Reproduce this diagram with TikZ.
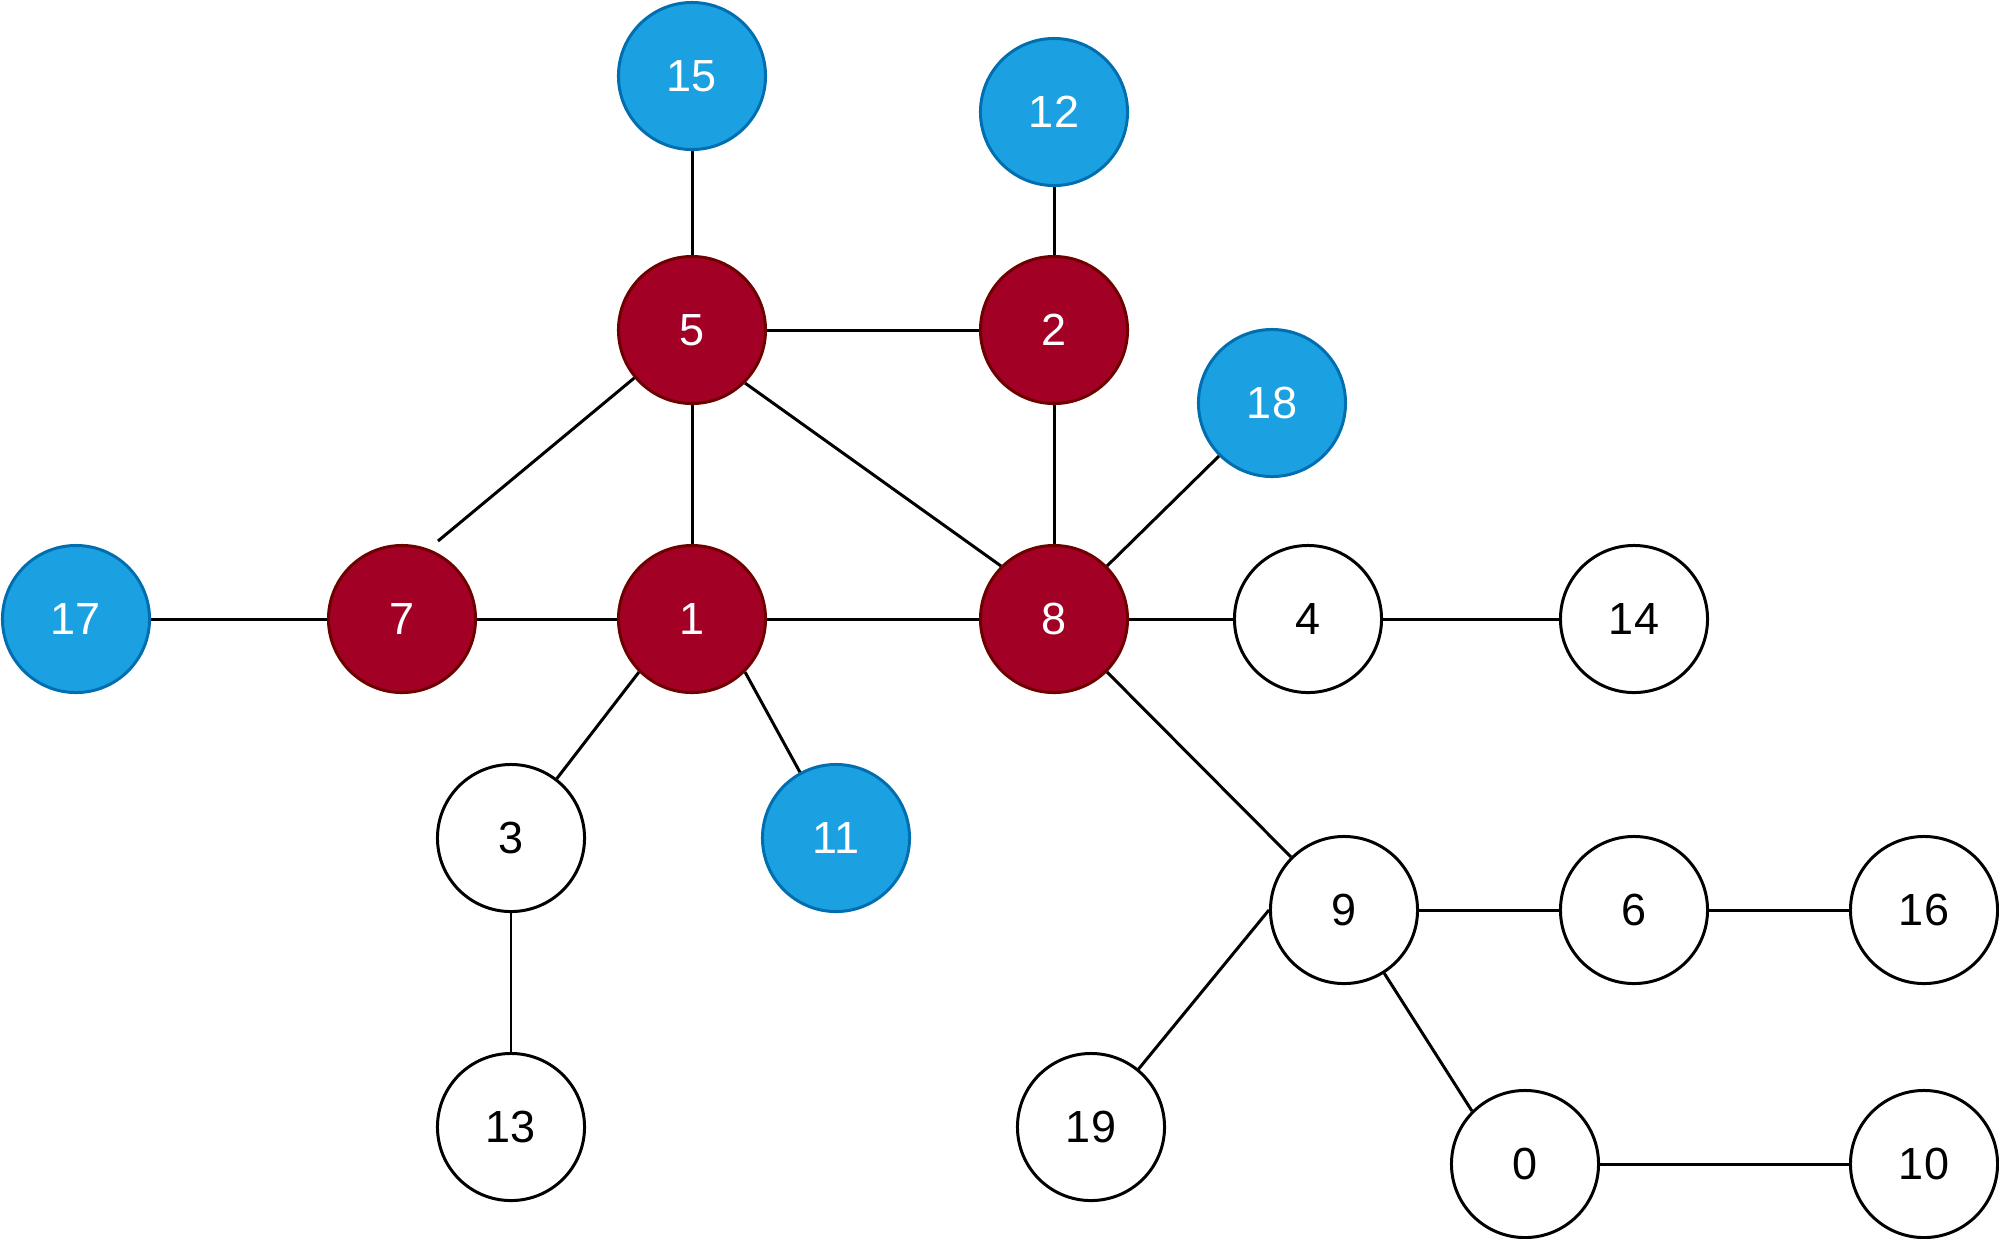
\documentclass[tikz,border=0pt]{standalone}
\usepackage{fontspec}
\setmainfont{Liberation Sans}
\definecolor{hotred}{HTML}{A20025}
\definecolor{hotredline}{HTML}{6F0000}
\definecolor{leafblue}{HTML}{1BA1E2}
\definecolor{leafblueline}{HTML}{006EAF}
\begin{document}
\begin{tikzpicture}[x=0.01cm, y=-0.01cm, line width=0.85pt,
  every node/.style={font=\fontsize{12.8}{15}\selectfont},
  vtx/.style={circle,draw=black,fill=white,minimum size=1.47cm,inner sep=0pt},
  hot/.style={vtx,draw=hotredline,fill=hotred,text=white},
  leaf/.style={vtx,draw=leafblueline,fill=leafblue,text=white}]
\useasboundingbox (0,0) rectangle (1999,1238);
% core nodes
\node[hot] (n5) at (692,330) {5};
\node[hot] (n2) at (1054,330) {2};
\node[hot] (n7) at (402,619) {7};
\node[hot] (n1) at (692,619) {1};
\node[hot] (n8) at (1054,619) {8};
% blue leaves
\node[leaf] (n15) at (692,76) {15};
\node[leaf] (n12) at (1054,112) {12};
\node[leaf] (n18) at (1272,403) {18};
\node[leaf] (n17) at (76,619) {17};
\node[leaf] (n11) at (836,838) {11};
% plain nodes
\node[vtx] (n4) at (1308,619) {4};
\node[vtx] (n14) at (1634,619) {14};
\node[vtx] (n3) at (511,838) {3};
\node[vtx] (n13) at (511,1127) {13};
\node[vtx] (n9) at (1344,910) {9};
\node[vtx] (n6) at (1634,910) {6};
\node[vtx] (n16) at (1924,910) {16};
\node[vtx] (n19) at (1091,1127) {19};
\node[vtx] (n0) at (1525,1164) {0};
\node[vtx] (n10) at (1924,1164) {10};
\coordinate (c7) at (438,541);
% edges
\draw (n15) -- (n5);
\draw (n12) -- (n2);
\draw (n5) -- (n2);
\draw (n5) -- (n1);
\draw (n5) -- (c7);
\draw (n5.south east) -- (n8.north west);
\draw (n2) -- (n8);
\draw (n8.north east) -- (n18.south west);
\draw (n17) -- (n7);
\draw (n7) -- (n1);
\draw (n1) -- (n8);
\draw (n8) -- (n4);
\draw (n4) -- (n14);
\draw (n1.south west) -- (n3);
\draw (n1.south east) -- (n11);
\draw (n3) -- (n13);
\draw (n8.south east) -- (n9.north west);
\draw (n9) -- (n6);
\draw (n6) -- (n16);
\draw (n9.west) -- (n19);
\draw (n9) -- (n0.north west);
\draw (n0) -- (n10);
\end{tikzpicture}
\end{document}
